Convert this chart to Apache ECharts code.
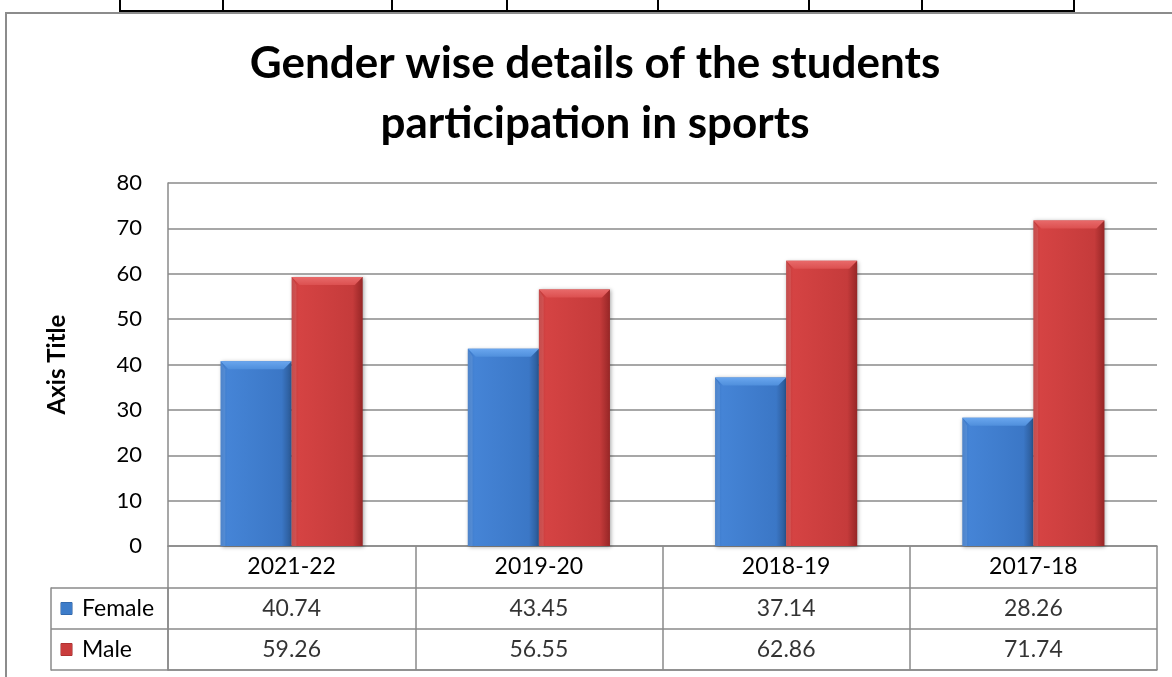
<!DOCTYPE html>
<html>
<head>
<meta charset="utf-8">
<script src="https://cdn.jsdelivr.net/npm/echarts@6/dist/echarts.min.js"></script>
<style>
  html,body{margin:0;padding:0;background:#fff;}
  #wrap{position:relative;width:1172px;height:677px;overflow:hidden;}
  #chart{position:absolute;left:0;top:0;width:1172px;height:677px;}
  .docH{position:absolute;background:#000;}
  .border{position:absolute;background:#8c8c8c;}
</style>
</head>
<body>
<div id="wrap">
  <div class="docH" style="left:119px;top:10px;width:956px;height:2px;"></div>
  <div class="docH" style="left:119px;top:0;width:2px;height:12px;"></div>
  <div class="docH" style="left:222px;top:0;width:2px;height:12px;"></div>
  <div class="docH" style="left:391px;top:0;width:2px;height:12px;"></div>
  <div class="docH" style="left:506px;top:0;width:2px;height:12px;"></div>
  <div class="docH" style="left:657px;top:0;width:2px;height:12px;"></div>
  <div class="docH" style="left:808px;top:0;width:2px;height:12px;"></div>
  <div class="docH" style="left:921px;top:0;width:2px;height:12px;"></div>
  <div class="docH" style="left:1073px;top:0;width:2px;height:12px;"></div>
  <div class="border" style="left:5px;top:12px;width:1167px;height:2px;"></div>
  <div class="border" style="left:5px;top:12px;width:2px;height:665px;"></div>
  <div id="chart"></div>
</div>
<script>
const categories = ['2021-22', '2019-20', '2018-19', '2017-18'];
const seriesNames = ['Female', 'Male'];
const female = [40.74, 43.45, 37.14, 28.26];
const male = [59.26, 56.55, 62.86, 71.74];
const yTicks = { min: 0, max: 80, interval: 10 };
const titleText = 'Gender wise details of the students\nparticipation in sports';
const axisTitle = 'Axis Title';

const FONT = 'Lato';
const GRID_C = '#8a8a8a';
const BAR_FRAC = 0.2875; // bar width as fraction of category band (barCategoryGap 42.5%, barGap 0)

const chart = echarts.init(document.getElementById('chart'), null, { renderer: 'canvas' });

const blueGrad = new echarts.graphic.LinearGradient(0, 0, 1, 0, [
  { offset: 0, color: '#3a76c4' },
  { offset: 0.1, color: '#4584d6' },
  { offset: 0.86, color: '#3b77c6' },
  { offset: 1, color: '#2a5894' }
]);
const redGrad = new echarts.graphic.LinearGradient(0, 0, 1, 0, [
  { offset: 0, color: '#bd3838' },
  { offset: 0.1, color: '#d54343' },
  { offset: 0.86, color: '#c53b3b' },
  { offset: 1, color: '#962626' }
]);
const bevelColors = [
  { top: '#6aa6ee', edge: '#4f8fdc' },
  { top: '#e86a6a', edge: '#dc5050' }
];

const tableData = [];
const bevelData = [];
categories.forEach((c, i) => {
  tableData.push([c, seriesNames[0], female[i]]);
  tableData.push([c, seriesNames[1], male[i]]);
  bevelData.push([i, female[i], 0]);
  bevelData.push([i, male[i], 1]);
});

function renderBevel(params, api) {
  const idx = api.value(0), val = api.value(1), s = api.value(2);
  const c = api.coord([idx, val]);
  const base = api.coord([idx, 0]);
  const bw = api.size([1, 0])[0] * BAR_FRAC;
  const x0 = s === 0 ? c[0] - bw : c[0];
  const top = c[1];
  const d = Math.min(8, (base[1] - top) / 2);
  const col = bevelColors[s];
  return {
    type: 'group',
    silent: true,
    children: [
      {
        type: 'polygon',
        shape: { points: [[x0, top], [x0 + bw, top], [x0 + bw - d, top + d], [x0 + d, top + d]] },
        style: {
          fill: new echarts.graphic.LinearGradient(0, 0, 0, 1, [
            { offset: 0, color: col.top }, { offset: 1, color: col.edge }
          ])
        }
      },
      {
        type: 'polygon',
        shape: { points: [[x0, top], [x0 + d * 0.6, top + d], [x0 + d * 0.6, base[1]], [x0, base[1]]] },
        style: { fill: 'rgba(255,255,255,0.10)' }
      }
    ]
  };
}

const option = {
  animation: false,
  backgroundColor: 'transparent',
  textStyle: { fontFamily: FONT },
  title: {
    text: titleText,
    left: 595,
    textAlign: 'center',
    top: 34,
    padding: 0,
    textStyle: { fontFamily: FONT, fontWeight: 'bold', fontSize: 44, lineHeight: 60, color: '#000' }
  },
  grid: [
    { left: 168, right: 15, top: 183, bottom: 131, containLabel: false },
    { left: 168, right: 15, top: 588, bottom: 7, containLabel: false }
  ],
  xAxis: [
    {
      type: 'category', gridIndex: 0, data: categories,
      axisLine: { show: true, lineStyle: { color: GRID_C, width: 1.5 } },
      axisTick: { show: true, length: 42, lineStyle: { color: GRID_C, width: 1.5 } },
      axisLabel: { color: '#000', fontSize: 23, fontFamily: FONT, margin: 9, lineHeight: 23 },
      splitLine: { show: false }
    },
    {
      type: 'category', gridIndex: 1, data: categories,
      axisLine: { show: true, lineStyle: { color: GRID_C, width: 1.5 } },
      axisTick: { show: false },
      axisLabel: { show: false },
      splitLine: { show: true, lineStyle: { color: GRID_C, width: 1.5 } }
    }
  ],
  yAxis: [
    {
      type: 'value', gridIndex: 0, min: yTicks.min, max: yTicks.max, interval: yTicks.interval,
      name: axisTitle, nameLocation: 'middle', nameRotate: 90, nameGap: 99,
      nameTextStyle: { fontFamily: FONT, fontWeight: 'bold', fontSize: 24, color: '#000' },
      axisLine: { show: true, lineStyle: { color: GRID_C, width: 1.5 } },
      axisTick: { show: false },
      axisLabel: { color: '#000', fontSize: 22, fontFamily: FONT, margin: 26 },
      splitLine: { show: true, lineStyle: { color: GRID_C, width: 1.5 } }
    },
    {
      type: 'category', gridIndex: 1, data: seriesNames, inverse: true,
      axisLine: { show: true, lineStyle: { color: GRID_C, width: 1.5 } },
      axisTick: { show: true, length: 117, lineStyle: { color: GRID_C, width: 1.5 } },
      axisLabel: {
        align: 'left', margin: 107, fontFamily: FONT,
        formatter: (v) => '{' + (v === seriesNames[0] ? 'fi' : 'mi') + '|}{t|' + v + '}',
        rich: {
          fi: {
            width: 11, height: 12,
            backgroundColor: '#3d7cc9', borderColor: '#2a5894', borderWidth: 0.5
          },
          mi: {
            width: 11, height: 12,
            backgroundColor: '#c93c3c', borderColor: '#962626', borderWidth: 0.5
          },
          t: { fontSize: 23, color: '#000', fontFamily: FONT, padding: [0, 0, 0, 10] }
        }
      },
      splitLine: { show: true, lineStyle: { color: GRID_C, width: 1.5 } }
    },
    {
      type: 'category', gridIndex: 1, data: seriesNames, inverse: true, position: 'left', offset: 117,
      axisLine: { show: true, lineStyle: { color: GRID_C, width: 1.5 } },
      axisTick: { show: false }, axisLabel: { show: false }, splitLine: { show: false }
    }
  ],
  series: [
    {
      name: seriesNames[0], type: 'bar', xAxisIndex: 0, yAxisIndex: 0, data: female,
      barGap: '0%', barCategoryGap: '42.5%',
      itemStyle: { color: blueGrad, shadowColor: 'rgba(0,0,0,0.35)', shadowBlur: 4, shadowOffsetX: 1, shadowOffsetY: 1 }
    },
    {
      name: seriesNames[1], type: 'bar', xAxisIndex: 0, yAxisIndex: 0, data: male,
      barGap: '0%', barCategoryGap: '42.5%',
      itemStyle: { color: redGrad, shadowColor: 'rgba(0,0,0,0.35)', shadowBlur: 4, shadowOffsetX: 1, shadowOffsetY: 1 }
    },
    {
      type: 'custom', xAxisIndex: 0, yAxisIndex: 0, data: bevelData,
      renderItem: renderBevel, silent: true, z: 3
    },
    {
      type: 'scatter', xAxisIndex: 1, yAxisIndex: 1, data: tableData,
      symbolSize: 0, silent: true,
      label: {
        show: true, position: 'inside', color: '#000', fontSize: 23, fontFamily: FONT,
        formatter: (p) => p.value[2].toFixed(2)
      }
    }
  ]
};
chart.setOption(option);
</script>
</body>
</html>
